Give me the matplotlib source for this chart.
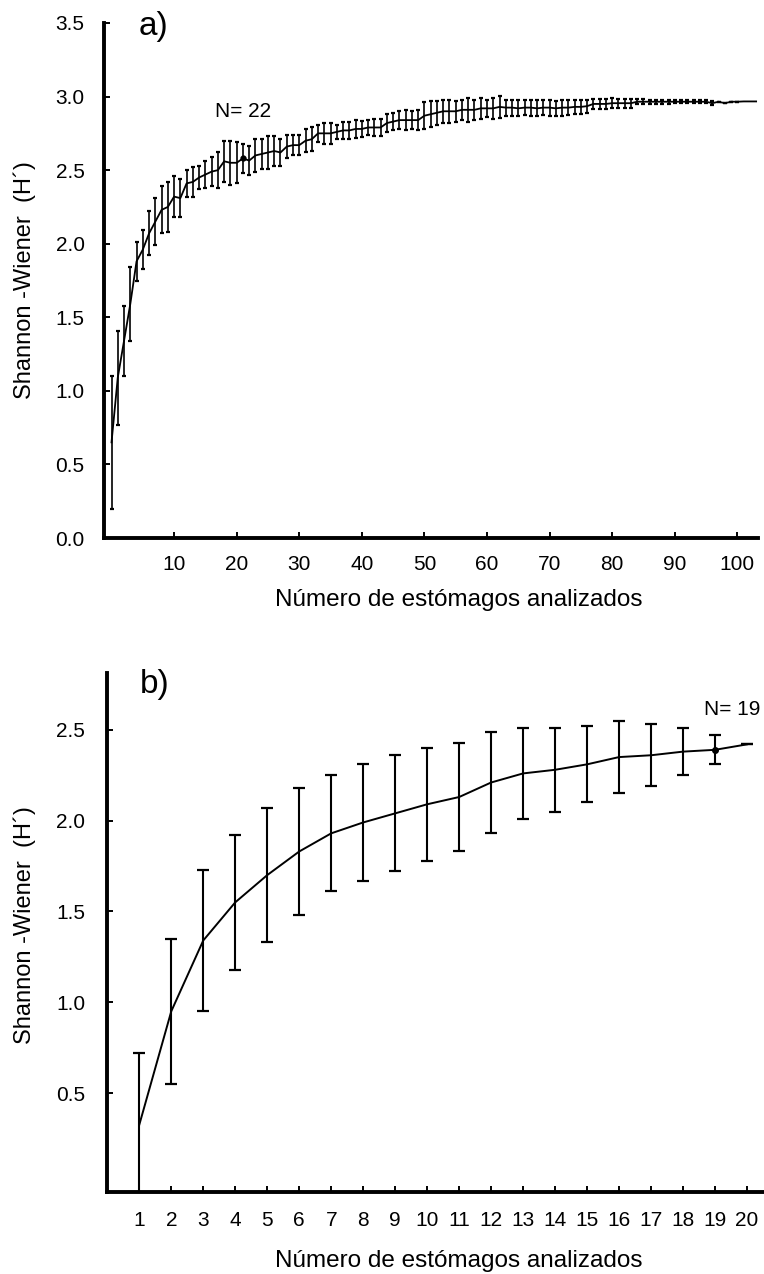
import numpy as np
import matplotlib
matplotlib.use("Agg")
import matplotlib.pyplot as plt

plt.rcParams['font.family'] = ['Liberation Sans', 'DejaVu Sans']

# ---------------- data: panel a ----------------
a_x = list(range(0, 104))
a_mean = [0.65, 1.09, 1.34, 1.59, 1.88, 1.96, 2.07, 2.15, 2.23, 2.25,
          2.32, 2.31, 2.41, 2.42, 2.45, 2.47, 2.49, 2.50, 2.56, 2.55,
          2.55, 2.58, 2.565, 2.60, 2.61, 2.62, 2.63, 2.62, 2.66, 2.67,
          2.67, 2.70, 2.71, 2.75, 2.75, 2.75, 2.76, 2.77, 2.77, 2.78,
          2.78, 2.79, 2.79, 2.79, 2.82, 2.83, 2.84, 2.84, 2.84, 2.84,
          2.87, 2.88, 2.89, 2.90, 2.90, 2.90, 2.91, 2.91, 2.91, 2.92,
          2.92, 2.92, 2.93, 2.925, 2.925, 2.92, 2.925, 2.925, 2.92, 2.925,
          2.925, 2.92, 2.925, 2.925, 2.93, 2.93, 2.935, 2.95, 2.95, 2.95,
          2.955, 2.955, 2.955, 2.955, 2.965, 2.965, 2.965, 2.965, 2.965, 2.965,
          2.965, 2.965, 2.965, 2.965, 2.965, 2.965, 2.955, 2.965, 2.955, 2.965,
          2.965, 2.967, 2.967, 2.967]
a_sd = [0.45, 0.32, 0.24, 0.25, 0.13, 0.13, 0.15, 0.16, 0.16, 0.17,
        0.14, 0.13, 0.09, 0.10, 0.08, 0.09, 0.10, 0.12, 0.14, 0.15,
        0.14, 0.10, 0.10, 0.11, 0.10, 0.11, 0.10, 0.09, 0.08, 0.07,
        0.07, 0.08, 0.08, 0.06, 0.07, 0.07, 0.05, 0.06, 0.055, 0.06,
        0.055, 0.05, 0.06, 0.055, 0.06, 0.06, 0.06, 0.07, 0.06, 0.07,
        0.09, 0.09, 0.08, 0.08, 0.08, 0.07, 0.07, 0.08, 0.07, 0.07,
        0.06, 0.07, 0.075, 0.055, 0.055, 0.055, 0.05, 0.055, 0.055, 0.05,
        0.055, 0.05, 0.055, 0.05, 0.05, 0.05, 0.045, 0.035, 0.035, 0.035,
        0.035, 0.03, 0.03, 0.03, 0.018, 0.018, 0.015, 0.015, 0.015, 0.015,
        0.012, 0.012, 0.012, 0.012, 0.012, 0.012, 0.012, 0.0, 0.0, 0.0,
        0.0, np.nan, np.nan, np.nan]
a_mark_idx = 21
a_note = "N= 22"
a_yticks = [0.0, 0.5, 1.0, 1.5, 2.0, 2.5, 3.0, 3.5]
a_xticks = [10, 20, 30, 40, 50, 60, 70, 80, 90, 100]

# ---------------- data: panel b ----------------
b_x = list(range(1, 21))
b_mean = [0.325, 0.95, 1.34, 1.55, 1.70, 1.83, 1.93, 1.99, 2.04, 2.09,
          2.13, 2.21, 2.26, 2.28, 2.31, 2.35, 2.36, 2.38, 2.39, 2.42]
b_sd = [0.395, 0.40, 0.39, 0.37, 0.37, 0.35, 0.32, 0.32, 0.32, 0.31,
        0.30, 0.28, 0.25, 0.23, 0.21, 0.20, 0.17, 0.13, 0.08, 0.0]
b_mark_idx = 18
b_note = "N= 19"
b_yticks = [0.5, 1.0, 1.5, 2.0, 2.5]
b_xticks = list(range(1, 21))

ylabel = "Shannon -Wiener  (H\u00b4)"
xlabel = "Número de estómagos analizados"

W, H = 764, 1274
fig = plt.figure(figsize=(W / 100, H / 100), dpi=100)

def px_axes(l, r, t, b):
    return fig.add_axes([l / W, 1 - b / H, (r - l) / W, (b - t) / H])

def style(ax, xpad, ypad):
    for s in ['top', 'right']:
        ax.spines[s].set_visible(False)
    for s in ['left', 'bottom']:
        ax.spines[s].set_linewidth(2.8)
    ax.tick_params(direction='in', length=4.5, width=1.4, labelsize=15)
    ax.tick_params(axis='x', pad=xpad)
    ax.tick_params(axis='y', pad=ypad)

def labels(ax, ylab_xy, xlab_xy):
    ax.set_ylabel(ylabel, fontsize=17)
    ax.yaxis.label.set_verticalalignment('center')
    ax.yaxis.set_label_coords(*ylab_xy)
    ax.set_xlabel(xlabel, fontsize=17.5)
    ax.xaxis.label.set_verticalalignment('center')
    ax.xaxis.set_label_coords(*xlab_xy)

# panel a
ax1 = px_axes(104, 758, 23, 538)
ax1.errorbar(a_x, a_mean, yerr=a_sd, color='black', lw=1.3, ecolor='black',
             elinewidth=1.2, capsize=1.3, capthick=1.6, clip_on=False, zorder=3)
ax1.plot([a_x[a_mark_idx]], [a_mean[a_mark_idx]], 'o', color='black', ms=3.5)
ax1.set_xlim(-1.2, 103.3)
ax1.set_ylim(0, 3.5)
ax1.set_yticks(a_yticks)
ax1.set_yticklabels([f"{v:.1f}" for v in a_yticks])
ax1.set_xticks(a_xticks)
style(ax1, 12, 14)
labels(ax1, ((25 - 104) / 654, 0.501), (0.542, (538 - 600) / 515))
ax1.text(a_x[a_mark_idx], 2.90, a_note, fontsize=15, ha='center', va='center')
fig.text(154 / W, 1 - 27 / H, "a)", fontsize=24, ha='center', va='center')

# panel b
ax2 = px_axes(107.3, 763, 673, 1191.7)
ax2.errorbar(b_x, b_mean, yerr=b_sd, color='black', lw=1.4, ecolor='black',
             elinewidth=1.5, capsize=4.0, capthick=1.6, zorder=3)
ax2.plot([b_x[b_mark_idx]], [b_mean[b_mark_idx]], 'o', color='black', ms=4)
ax2.set_xlim(0, 20.5)
ax2.set_ylim(-0.0435, 2.813)
ax2.set_yticks(b_yticks)
ax2.set_yticklabels([f"{v:.1f}" for v in b_yticks])
ax2.set_xticks(b_xticks)
style(ax2, 14, 16)
labels(ax2, ((25 - 107.3) / 655.7, 0.514), (0.536, (1191.7 - 1261) / 518.7))
ax2.text(19.55, 2.61, b_note, fontsize=15, ha='center', va='center')
fig.text(155 / W, 1 - 685 / H, "b)", fontsize=24, ha='center', va='center')

fig.savefig("out.png", dpi=100)
